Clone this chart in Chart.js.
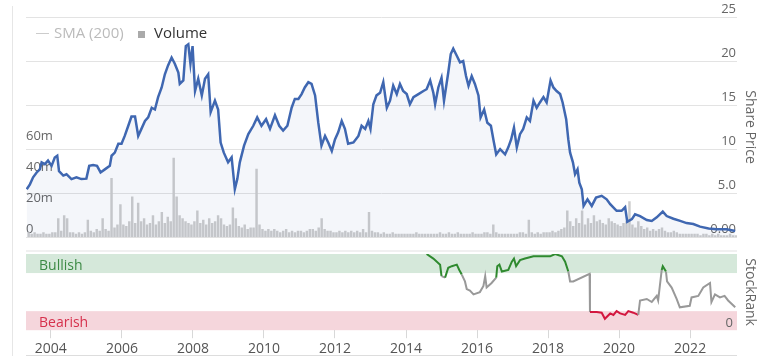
<!DOCTYPE html>
<html lang="en">
<head>
  <meta charset="UTF-8">
  <title>Share Price and StockRank</title>
  <script src="https://cdn.jsdelivr.net/npm/chart.js"></script>
  <style>
    body {
      margin: 0;
      width: 760px;
      height: 362px;
      background: #ffffff;
      font-family: "Open Sans", Arial, sans-serif;
      position: relative;
      overflow: hidden;
    }
    .box { position: absolute; }
    #top { left: 0; top: 0; width: 760px; height: 245px; }
    #bottom { left: 0; top: 240px; width: 760px; height: 122px; }
    .rule { position: absolute; background: #e6e6e6; }
    .legend { position: absolute; top: 22px; font-size: 15px; line-height: 20px; }
  </style>
</head>
<body>
  <div class="rule" style="left:12px; top:6px; width:1px; height:350px;"></div>
  <div class="rule" style="left:26px; top:250px; width:711px; height:2px; background:#f0f0f0;"></div>
  <div class="rule" style="left:26px; top:355px; width:711px; height:1px; background:#dddddd;"></div>

  <div class="box" id="top"><canvas id="priceChart"></canvas></div>
  <div class="box" id="bottom"><canvas id="rankChart"></canvas></div>

  <div class="rule" style="left:36px; top:33px; width:13px; height:1px; background:#cccccc;"></div>
  <div class="legend" style="left:54px; color:#bbbbbb;">SMA (200)</div>
  <div class="rule" style="left:138px; top:31px; width:7px; height:7px; background:#aaaaaa;"></div>
  <div class="legend" style="left:154px; color:#333333;">Volume</div>

  <script>
    // share price (year, price)
    const priceYears = [2003.32, 2003.41, 2003.5, 2003.6, 2003.69, 2003.74, 2003.83, 2003.92, 2004.02, 2004.11, 2004.18, 2004.23, 2004.35, 2004.44, 2004.58, 2004.72, 2004.86, 2005.0, 2005.08, 2005.19, 2005.3, 2005.4, 2005.52, 2005.66, 2005.71, 2005.8, 2005.9, 2005.99, 2006.08, 2006.18, 2006.27, 2006.37, 2006.46, 2006.55, 2006.65, 2006.74, 2006.84, 2006.93, 2007.02, 2007.12, 2007.21, 2007.3, 2007.4, 2007.49, 2007.59, 2007.63, 2007.73, 2007.8, 2007.87, 2007.93, 2007.99, 2008.06, 2008.15, 2008.25, 2008.34, 2008.43, 2008.5, 2008.62, 2008.71, 2008.78, 2008.87, 2008.99, 2009.09, 2009.18, 2009.25, 2009.32, 2009.44, 2009.56, 2009.7, 2009.81, 2009.93, 2010.06, 2010.17, 2010.31, 2010.43, 2010.54, 2010.66, 2010.78, 2010.87, 2010.97, 2011.06, 2011.15, 2011.25, 2011.34, 2011.44, 2011.53, 2011.62, 2011.72, 2011.81, 2011.91, 2012.0, 2012.09, 2012.19, 2012.28, 2012.37, 2012.52, 2012.66, 2012.75, 2012.85, 2012.94, 2013.0, 2013.08, 2013.17, 2013.27, 2013.36, 2013.46, 2013.55, 2013.64, 2013.74, 2013.83, 2013.92, 2014.02, 2014.11, 2014.21, 2014.35, 2014.49, 2014.58, 2014.68, 2014.77, 2014.82, 2014.91, 2015.0, 2015.07, 2015.19, 2015.26, 2015.33, 2015.43, 2015.52, 2015.61, 2015.69, 2015.76, 2015.85, 2015.94, 2016.04, 2016.1, 2016.2, 2016.29, 2016.39, 2016.46, 2016.54, 2016.65, 2016.79, 2016.88, 2016.96, 2017.04, 2017.12, 2017.21, 2017.3, 2017.4, 2017.49, 2017.59, 2017.68, 2017.77, 2017.87, 2017.96, 2018.07, 2018.15, 2018.24, 2018.34, 2018.41, 2018.51, 2018.57, 2018.62, 2018.7, 2018.76, 2018.83, 2018.88, 2018.95, 2019.0, 2019.11, 2019.23, 2019.35, 2019.51, 2019.65, 2019.75, 2019.93, 2020.07, 2020.17, 2020.23, 2020.36, 2020.45, 2020.59, 2020.78, 2020.92, 2021.06, 2021.23, 2021.34, 2021.53, 2021.72, 2021.9, 2022.09, 2022.28, 2022.52, 2022.75, 2023.03, 2023.27];
    const priceValues = [5.45, 6.0, 6.8, 7.35, 7.7, 8.5, 8.3, 8.7, 8.1, 9.05, 9.25, 7.5, 7.0, 7.15, 6.6, 6.8, 6.6, 6.65, 8.1, 8.2, 8.1, 7.35, 7.7, 8.1, 9.25, 9.6, 10.6, 10.6, 11.5, 12.65, 13.7, 13.7, 11.5, 12.3, 13.2, 13.6, 14.7, 14.5, 15.9, 17.0, 18.5, 19.5, 20.4, 19.7, 18.7, 17.4, 17.8, 21.7, 21.9, 19.7, 21.7, 16.6, 18.0, 16.1, 18.0, 18.5, 14.2, 15.5, 14.5, 10.75, 9.6, 8.5, 9.05, 5.45, 6.6, 8.5, 10.4, 11.7, 12.65, 13.6, 12.65, 13.4, 12.3, 13.85, 12.65, 12.1, 12.65, 14.7, 15.7, 15.7, 16.25, 17.0, 17.6, 17.4, 16.1, 13.0, 10.4, 11.5, 10.75, 9.8, 11.1, 11.9, 13.2, 12.3, 10.6, 10.75, 11.5, 12.65, 12.3, 13.2, 12.3, 15.1, 16.1, 16.4, 17.6, 14.7, 15.5, 17.2, 16.25, 17.4, 16.6, 16.25, 15.1, 15.9, 16.25, 16.6, 16.8, 17.8, 16.4, 15.1, 17.0, 18.1, 15.5, 18.7, 20.8, 21.4, 20.6, 19.85, 20.0, 18.3, 17.2, 18.3, 17.4, 16.1, 13.6, 14.5, 13.0, 12.65, 11.1, 9.4, 10.0, 9.4, 10.2, 11.1, 12.45, 10.2, 11.7, 12.3, 13.6, 13.2, 15.5, 14.7, 15.3, 15.9, 15.3, 17.8, 17.0, 16.6, 16.25, 15.3, 13.4, 11.1, 9.6, 8.5, 7.15, 7.7, 6.2, 5.45, 3.55, 4.3, 3.55, 4.5, 4.7, 4.3, 3.75, 3.0, 3.0, 3.4, 1.75, 2.05, 2.6, 2.4, 1.95, 1.85, 2.25, 2.9, 2.4, 2.1, 1.85, 1.6, 1.5, 1.2, 1.0, 0.9, 0.9, 0.7];

    // monthly volume in millions, May 2003 .. Apr 2023
    const volumeStart = 2003.375;
    const volumeValues = [
      3, 2, 3, 2, 2, 3, 2, 2,
      3, 3, 12, 4, 14, 12, 3, 3, 2, 3, 2, 3,
      11, 4, 3, 5, 4, 12, 5, 4, 38, 6, 8, 21,
      8, 7, 10, 26, 9, 22, 10, 12, 8, 9, 14, 8,
      10, 16, 9, 13, 10, 51, 26, 14, 12, 10, 9, 8,
      10, 17, 9, 11, 8, 12, 9, 10, 14, 12, 8, 7,
      8, 19, 12, 7, 6, 8, 5, 6, 6, 44, 8, 5,
      4, 5, 4, 5, 4, 3, 4, 5, 3, 4, 3, 4,
      4, 3, 4, 5, 5, 4, 6, 12, 5, 4, 4, 3,
      3, 4, 3, 4, 3, 4, 3, 4, 3, 5, 3, 16,
      4, 3, 3, 2, 3, 2, 2, 3, 2, 2, 2, 2,
      2, 2, 2, 3, 2, 2, 2, 2, 2, 2, 2, 3,
      2, 2, 3, 2, 2, 3, 2, 2, 2, 2, 3, 2,
      2, 2, 3, 3, 2, 8, 3, 2, 2, 2, 2, 2,
      2, 2, 3, 3, 2, 11, 3, 2, 3, 2, 3, 3,
      3, 4, 3, 4, 5, 6, 17, 10, 7, 12, 9, 17,
      8, 12, 9, 14, 10, 11, 9, 8, 12, 10, 9, 8,
      7, 9, 10, 23, 8, 6, 10, 7, 5, 6, 4, 5,
      4, 5, 6, 4, 3, 3, 4, 3, 2, 2, 2, 2,
      2, 2, 2, 1, 2, 2, 1, 2, 1, 2, 1, 1,
      1, 2, 1, 1
    ];

    // StockRank (0..100)
    const rankYears = [2014.58, 2014.77, 2014.96, 2015.0, 2015.1, 2015.19, 2015.29, 2015.43, 2015.5, 2015.57, 2015.66, 2015.71, 2015.8, 2015.9, 2016.08, 2016.18, 2016.23, 2016.27, 2016.41, 2016.54, 2016.57, 2016.63, 2016.7, 2016.88, 2016.98, 2017.04, 2017.1, 2017.21, 2017.35, 2017.59, 2017.87, 2018.06, 2018.2, 2018.39, 2018.48, 2018.57, 2018.62, 2018.71, 2019.17, 2019.18, 2019.37, 2019.51, 2019.6, 2019.75, 2019.84, 2019.93, 2020.03, 2020.17, 2020.26, 2020.4, 2020.54, 2020.59, 2020.78, 2020.92, 2021.06, 2021.1, 2021.2, 2021.23, 2021.32, 2021.35, 2021.48, 2021.62, 2021.71, 2021.99, 2022.04, 2022.23, 2022.37, 2022.56, 2022.6, 2022.7, 2022.84, 2022.97, 2023.07, 2023.27];
    const rankValues = [100, 94, 86, 71, 69, 82, 84, 86, 79, 73, 64, 54, 52, 47, 50, 58, 71, 56, 62, 69, 84, 86, 77, 79, 90, 94, 84, 92, 94, 97, 97, 97, 100, 97, 90, 77, 64, 64, 74, 24, 24, 23, 15, 22, 20, 25, 22, 20, 25, 23, 20, 39, 41, 37, 45, 39, 79, 84, 77, 64, 56, 41, 30, 32, 43, 45, 56, 62, 37, 47, 43, 45, 39, 30];
    const bullishFrom = 75;
    const bearishTo = 25;

    const xYears = [2004, 2006, 2008, 2010, 2012, 2014, 2016, 2018, 2020, 2022];
    const priceTicks = [0, 5, 10, 15, 20, 25];
    const priceTickLabels = ['0.00', '5.0', '10', '15', '20', '25'];
    const volumeTicks = [0, 20, 40, 60];
    const volumeTickLabels = ['0', '20m', '40m', '60m'];

    const xMin = 2003.3, xMax = 2023.32;
    const font = 'Open Sans';

    const pricePoints = priceYears.map((x, i) => ({ x: x, y: priceValues[i] }));
    const volumePoints = volumeValues.map((v, i) => ({ x: volumeStart + i / 12, y: v }));
    const rankPoints = rankYears.map((x, i) => ({ x: x, y: rankValues[i] }));

    new Chart(document.getElementById('priceChart'), {
      data: {
        datasets: [
          {
            type: 'line',
            label: 'Share Price',
            data: pricePoints,
            yAxisID: 'yPrice',
            borderColor: '#3f67b1',
            borderWidth: 2.5,
            backgroundColor: 'rgba(62, 103, 177, 0.06)',
            fill: 'origin',
            pointRadius: 0,
            tension: 0,
            order: 0
          },
          {
            type: 'bar',
            label: 'Volume',
            data: volumePoints,
            yAxisID: 'yVol',
            backgroundColor: '#cccccc',
            barThickness: 1.8,
            order: 1
          }
        ]
      },
      options: {
        responsive: true,
        maintainAspectRatio: false,
        animation: false,
        layout: { padding: { left: 26, right: 0, top: 17, bottom: 7 } },
        plugins: { legend: { display: false }, tooltip: { enabled: false } },
        scales: {
          x: { type: 'linear', min: xMin, max: xMax, offset: false, display: false },
          yPrice: {
            position: 'right',
            min: 0, max: 25,
            afterBuildTicks: axis => { axis.ticks = priceTicks.map(v => ({ value: v })); },
            grid: { color: '#e3e3e3', drawTicks: false },
            border: { display: false },
            ticks: {
              mirror: true,
              padding: -1,
              labelOffset: -8,
              color: '#666666',
              font: { family: font, size: 13 },
              callback: v => priceTickLabels[priceTicks.indexOf(v)]
            },
            title: {
              display: true,
              text: 'Share Price',
              color: '#666666',
              font: { family: font, size: 14 },
              padding: { top: 2, bottom: 6.2 }
            }
          },
          yVol: {
            position: 'left',
            min: 0, max: 142,
            afterBuildTicks: axis => { axis.ticks = volumeTicks.map(v => ({ value: v })); },
            grid: { display: false, drawTicks: false },
            border: { display: false },
            ticks: {
              mirror: true,
              padding: 0,
              labelOffset: -8,
              color: '#666666',
              font: { family: font, size: 13 },
              callback: v => volumeTickLabels[volumeTicks.indexOf(v)]
            }
          }
        }
      }
    });

    // coloured zones behind the StockRank line, drawn before the axis labels
    const bandPlugin = {
      id: 'bands',
      beforeDraw(chart) {
        const { ctx, chartArea } = chart;
        const y = chart.scales.y;
        const w = chartArea.right - chartArea.left;
        ctx.save();
        ctx.fillStyle = '#d5e8da';
        ctx.fillRect(chartArea.left, y.getPixelForValue(100), w, y.getPixelForValue(bullishFrom) - y.getPixelForValue(100));
        ctx.fillStyle = '#f5d6dc';
        ctx.fillRect(chartArea.left, y.getPixelForValue(bearishTo), w, y.getPixelForValue(0) - y.getPixelForValue(bearishTo));
        ctx.font = '14px "' + font + '"';
        ctx.textBaseline = 'alphabetic';
        ctx.fillStyle = '#3d8a45';
        ctx.fillText('Bullish', chartArea.left + 13, y.getPixelForValue(bullishFrom) - 3);
        ctx.fillStyle = '#d6304c';
        ctx.fillText('Bearish', chartArea.left + 13, y.getPixelForValue(0) - 3);
        ctx.restore();
      }
    };

    function rankColour(c) {
      const m = (c.p0.parsed.y + c.p1.parsed.y) / 2;
      if (m >= bullishFrom) return '#2f8a2f';
      if (m <= bearishTo) return '#d3173f';
      return '#999999';
    }

    new Chart(document.getElementById('rankChart'), {
      type: 'line',
      data: {
        datasets: [{
          label: 'StockRank',
          data: rankPoints,
          borderColor: '#999999',
          borderWidth: 2,
          pointRadius: 0,
          tension: 0,
          segment: { borderColor: rankColour }
        }]
      },
      plugins: [bandPlugin],
      options: {
        responsive: true,
        maintainAspectRatio: false,
        animation: false,
        layout: { padding: { left: 26, right: 0, top: 14, bottom: 3 } },
        plugins: { legend: { display: false }, tooltip: { enabled: false } },
        scales: {
          x: {
            type: 'linear',
            min: xMin, max: xMax,
            afterBuildTicks: axis => { axis.ticks = xYears.map(v => ({ value: v })); },
            grid: { drawOnChartArea: false, tickLength: 8, color: '#d8d8d8' },
            border: { display: false },
            ticks: {
              padding: 2,
              color: '#555555',
              maxRotation: 0,
              font: { family: font, size: 14 },
              callback: v => String(v)
            }
          },
          y: {
            position: 'right',
            min: 0, max: 100,
            afterBuildTicks: axis => { axis.ticks = [{ value: 0 }]; },
            grid: { display: false, drawTicks: false },
            border: { display: false },
            ticks: {
              mirror: true,
              padding: -4,
              labelOffset: -7,
              color: '#666666',
              font: { family: font, size: 13 },
              callback: v => String(v)
            },
            title: {
              display: true,
              text: 'StockRank',
              color: '#666666',
              font: { family: font, size: 14 },
              padding: { top: 2, bottom: 12.2 }
            }
          }
        }
      }
    });
  </script>
</body>
</html>
